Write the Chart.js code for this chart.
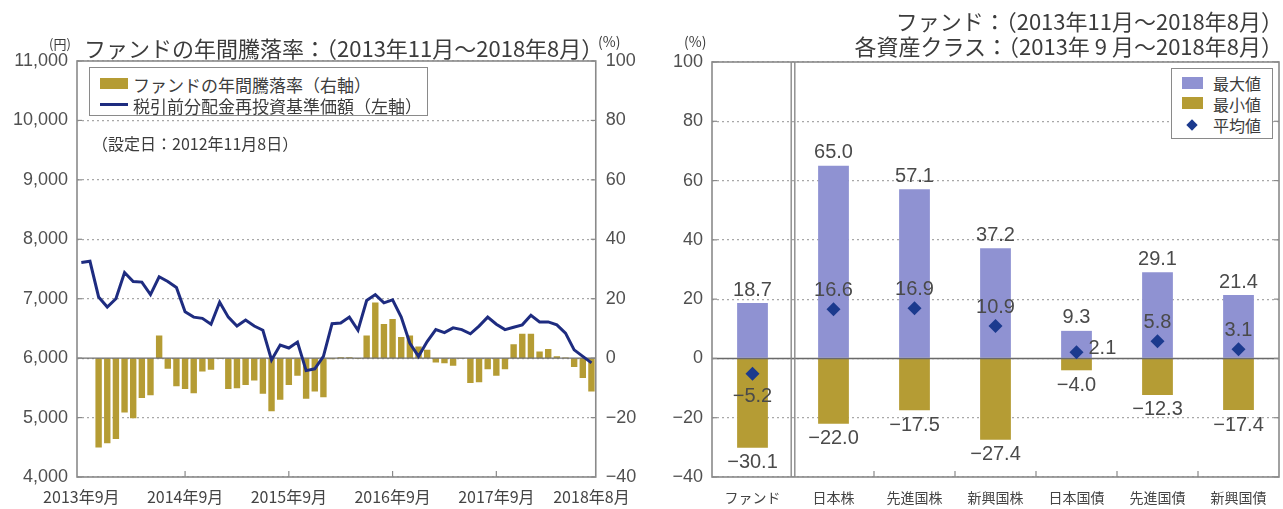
<!DOCTYPE html>
<html lang="ja">
<head>
<meta charset="utf-8">
<script src="https://cdn.jsdelivr.net/npm/chart.js@4.4.1/dist/chart.umd.min.js"></script>
<style>
  html, body { margin: 0; padding: 0; background: #fff; }
  body { width: 1283px; height: 509px; position: relative; overflow: hidden;
         font-family: "Noto Sans CJK JP", "Noto Sans", sans-serif; color: #3c3c3c; }
  .txt { position: absolute; white-space: nowrap; line-height: 1; transform: translateY(-50%); }
  .box { position: absolute; background: #fff; border: 1px solid #8a8a8a; box-sizing: border-box; }
  .sw { position: absolute; }
  #leftWrap { position: absolute; left: 0; top: 0; width: 640px; height: 509px; }
  #rightWrap { position: absolute; left: 640px; top: 0; width: 646px; height: 509px; }
</style>
</head>
<body>
<div id="leftWrap"><canvas id="leftChart" width="640" height="509"></canvas></div>
<div id="rightWrap"><canvas id="rightChart" width="646" height="509"></canvas></div>

<!-- left chart texts and legend -->
<div class="txt" style="left:49px; top:43px; font-size:13px;">(円)</div>
<div class="txt" style="left:84px; top:47px; font-size:22px;">ファンドの年間騰落率：（2013年11月～2018年8月）</div>
<div class="txt" style="left:598px; top:41px; font-size:14px;">(%)</div>
<div class="box" style="left:89px; top:67px; width:339px; height:49px;"></div>
<div class="sw" style="left:100px; top:78px; width:28px; height:11px; background:#b59c34;"></div>
<div class="txt" style="left:133px; top:84px; font-size:17px;">ファンドの年間騰落率（右軸）</div>
<div class="sw" style="left:100px; top:103px; width:28px; height:3px; background:#1e2c80;"></div>
<div class="txt" style="left:133px; top:105px; font-size:17px;">税引前分配金再投資基準価額（左軸）</div>
<div class="txt" style="left:92px; top:143px; font-size:16px;">（設定日：2012年11月8日）</div>

<!-- right chart texts and legend -->
<div class="txt" style="right:0; top:20px; font-size:22px;">ファンド：（2013年11月～2018年8月）</div>
<div class="txt" style="right:0; top:45px; font-size:22px;">各資産クラス：（2013年 9 月～2018年8月）</div>
<div class="txt" style="left:684px; top:41px; font-size:14px;">(%)</div>
<div class="box" style="left:1171px; top:68px; width:102px; height:71px;"></div>
<div class="sw" style="left:1182px; top:77px; width:21px; height:12px; background:#8f92d2;"></div>
<div class="txt" style="left:1213px; top:83px; font-size:16px;">最大値</div>
<div class="sw" style="left:1182px; top:97px; width:21px; height:12px; background:#b59c34;"></div>
<div class="txt" style="left:1213px; top:104px; font-size:16px;">最小値</div>
<div class="sw" style="left:1188px; top:121px; width:8px; height:8px; background:#1b3a8e; transform:rotate(45deg);"></div>
<div class="txt" style="left:1213px; top:125px; font-size:16px;">平均値</div>

<script>
// ---- left chart data: fund yearly return (%) and NAV (yen), monthly 2013/9 - 2018/8
const months = [];
for (let k = 0; k < 60; k++) {
  const m = 9 + k;
  months.push((2013 + Math.floor((m - 1) / 12)) + '年' + ((m - 1) % 12 + 1) + '月');
}
const xTickLabels = ['2013年9月', '2014年9月', '2015年9月', '2016年9月', '2017年9月', '2018年8月'];

const fundReturn = [
  null, null, -30.1, -28.6, -27.2, -18.3, -20.2, -13.4, -12.5, 7.6,
  -3.6, -9.5, -10.4, -11.8, -4.5, -3.9, -0.3, -10.4, -10.1, -9.0,
  -7.5, -12.0, -17.9, -14.0, -9.0, -5.9, -13.7, -11.2, -13.2, -0.4,
  0.3, 0.3, -0.3, 7.6, 18.7, 11.5, 13.2, 7.1, 7.6, 3.9,
  2.8, -1.5, -1.7, -2.6, -0.2, -8.4, -8.1, -3.7, -5.9, -3.7,
  4.7, 8.2, 8.2, 2.2, 3.1, 0.6, 0.2, -3.0, -6.7, -11.2
];
const navValues = [
  7610, 7630, 7030, 6860, 7000, 7440, 7290, 7280, 7070, 7370,
  7290, 7190, 6780, 6690, 6670, 6570, 6940, 6690, 6540, 6640,
  6540, 6470, 5970, 6220, 6170, 6270, 5790, 5820, 6030, 6580,
  6590, 6690, 6470, 6970, 7070, 6930, 6980, 6690, 6250, 6030,
  6280, 6480, 6430, 6510, 6480, 6410, 6540, 6690, 6570, 6480,
  6520, 6560, 6720, 6610, 6610, 6560, 6420, 6140, 6030, 5920
];

// ---- right chart data: max / min / average yearly return (%)
const assetClasses = ['ファンド', '日本株', '先進国株', '新興国株', '日本国債', '先進国債', '新興国債'];
const maxValues = [18.7, 65.0, 57.1, 37.2, 9.3, 29.1, 21.4];
const minValues = [-30.1, -22.0, -17.5, -27.4, -4.0, -12.3, -17.4];
const avgValues = [-5.2, 16.6, 16.9, 10.9, 2.1, 5.8, 3.1];

const GOLD = '#b59c34';
const PURPLE = '#8f92d2';
const NAVY = '#1e2c80';
const DIAMOND = '#1b3a8e';
const NUM_FONT = '"Liberation Sans", Arial, sans-serif';
const CJK_FONT = '"Noto Sans CJK JP", sans-serif';

Chart.defaults.font.family = NUM_FONT;
Chart.defaults.color = '#505050';

const minus = v => (v < 0 ? '\u2212' + Math.abs(v) : '' + v);
const fmt1 = v => (v < 0 ? '\u2212' : '') + Math.abs(v).toFixed(1);

function seg(ctx, x1, y1, x2, y2) {
  ctx.beginPath(); ctx.moveTo(x1, y1); ctx.lineTo(x2, y2); ctx.stroke();
}

// frame, zero line and inner tick marks for the left chart
const leftDecor = {
  id: 'leftDecor',
  afterDatasetDraw(chart, args) {
    if (args.index !== 0) return;
    const { ctx, chartArea: a, scales } = chart;
    const y0 = scales.yR.getPixelForValue(0);
    ctx.save(); ctx.strokeStyle = '#707070'; ctx.lineWidth = 1.3;
    seg(ctx, a.left, y0, a.right, y0);
    ctx.restore();
  },
  afterDraw(chart) {
    const { ctx, chartArea: a, scales } = chart;
    ctx.save();
    ctx.strokeStyle = '#8a8a8a'; ctx.lineWidth = 1.6;
    ctx.strokeRect(a.left, a.top, a.width, a.height);
    ctx.lineWidth = 1.2;
    scales.yL.ticks.forEach(t => {
      const y = scales.yL.getPixelForValue(t.value);
      seg(ctx, a.left, y, a.left + 5, y);
      seg(ctx, a.right - 5, y, a.right, y);
    });
    xTickLabels.slice(1, -1).forEach(l => {
      const x = scales.x.getPixelForValue(months.indexOf(l));
      seg(ctx, x, a.bottom, x, a.bottom - 6);
    });
    ctx.restore();
  }
};

new Chart(document.getElementById('leftChart'), {
  type: 'bar',
  data: {
    labels: months,
    datasets: [
      { type: 'bar', label: 'ファンドの年間騰落率（右軸）', data: fundReturn, yAxisID: 'yR',
        backgroundColor: GOLD, barPercentage: 0.74, categoryPercentage: 1, order: 1 },
      { type: 'line', label: '税引前分配金再投資基準価額（左軸）', data: navValues, yAxisID: 'yL',
        borderColor: NAVY, borderWidth: 3, pointRadius: 0, tension: 0, order: 0 }
    ]
  },
  options: {
    responsive: false,
    animation: false,
    layout: { padding: { top: 61, left: 0, right: 0, bottom: 0 } },
    plugins: { legend: { display: false }, tooltip: { enabled: false } },
    scales: {
      x: {
        grid: { display: false, drawTicks: false },
        border: { display: false },
        ticks: {
          autoSkip: false, maxRotation: 0, minRotation: 0, padding: 10,
          font: { family: CJK_FONT, size: 16 }, color: '#444',
          callback(v) { const l = this.getLabelForValue(v); return xTickLabels.includes(l) ? l : ''; }
        },
        afterFit(s) { s.height = 32; }
      },
      yL: {
        position: 'left', min: 4000, max: 11000,
        ticks: { stepSize: 1000, padding: 9, font: { size: 18 }, callback: v => v.toLocaleString('en-US') },
        grid: { color: '#a8a8a8', lineWidth: 1.2, drawTicks: false },
        border: { display: false, dash: [2, 3] },
        afterFit(s) { s.width = 77; }
      },
      yR: {
        position: 'right', min: -40, max: 100,
        ticks: { stepSize: 20, padding: 10, font: { size: 18 }, callback: v => minus(v) },
        grid: { display: false, drawTicks: false },
        border: { display: false },
        afterFit(s) { s.width = 43; }
      }
    }
  },
  plugins: [leftDecor]
});

// frame, zero line, separator, tick marks and value labels for the right chart
const rightDecor = {
  id: 'rightDecor',
  afterDatasetDraw(chart, args) {
    if (args.index !== 1) return;
    const { ctx, chartArea: a, scales } = chart;
    const y0 = scales.y.getPixelForValue(0);
    ctx.save(); ctx.strokeStyle = '#6a6a6a'; ctx.lineWidth = 1.4;
    seg(ctx, a.left, y0, a.right, y0);
    ctx.restore();
  },
  afterDraw(chart) {
    const { ctx, chartArea: a, scales } = chart;
    ctx.save();
    ctx.strokeStyle = '#8a8a8a'; ctx.lineWidth = 1.6;
    ctx.strokeRect(a.left, a.top, a.width, a.height);
    ctx.lineWidth = 1.2;
    scales.y.ticks.forEach(t => {
      const y = scales.y.getPixelForValue(t.value);
      seg(ctx, a.left, y, a.left + 5, y);
      seg(ctx, a.right - 5, y, a.right, y);
    });
    for (let i = 0; i < assetClasses.length - 1; i++) {
      const x = (scales.x.getPixelForValue(i) + scales.x.getPixelForValue(i + 1)) / 2;
      if (i === 0) {
        ctx.lineWidth = 1.4;
        seg(ctx, x - 1.8, a.top, x - 1.8, a.bottom);
        seg(ctx, x + 1.8, a.top, x + 1.8, a.bottom);
        ctx.lineWidth = 1.2;
      } else {
        seg(ctx, x, a.bottom, x, a.bottom - 6);
      }
    }
    // value labels
    ctx.font = '20px ' + NUM_FONT;
    ctx.fillStyle = '#4a4a4a';
    ctx.textBaseline = 'middle';
    chart.data.datasets.forEach((ds, di) => {
      chart.getDatasetMeta(di).data.forEach((el, i) => {
        const txt = fmt1(ds.data[i]);
        let x = el.x, y = el.y;
        ctx.textAlign = 'center';
        if (ds.labelPos === 'top') y -= 13;
        else if (ds.labelPos === 'bottom') y += 15;
        else if (ds.data[i] < 0) y += 23;
        else if (i === 4) { x += 12; y -= 4; ctx.textAlign = 'left'; }
        else y -= 19;
        ctx.fillText(txt, x, y);
      });
    });
    ctx.restore();
  }
};

new Chart(document.getElementById('rightChart'), {
  type: 'bar',
  data: {
    labels: assetClasses,
    datasets: [
      { label: '最大値', data: maxValues, backgroundColor: PURPLE, grouped: false,
        barPercentage: 0.38, categoryPercentage: 1, order: 2, labelPos: 'top' },
      { label: '最小値', data: minValues, backgroundColor: GOLD, grouped: false,
        barPercentage: 0.38, categoryPercentage: 1, order: 1, labelPos: 'bottom' },
      { type: 'line', label: '平均値', data: avgValues, showLine: false, order: 0,
        pointStyle: 'rectRot', pointRadius: 7, backgroundColor: DIAMOND, borderColor: DIAMOND, borderWidth: 0 }
    ]
  },
  options: {
    responsive: false,
    animation: false,
    layout: { padding: { top: 62, left: 0, right: 0, bottom: 0 } },
    plugins: { legend: { display: false }, tooltip: { enabled: false } },
    scales: {
      x: {
        grid: { display: false, drawTicks: false },
        border: { display: false },
        ticks: { padding: 12, maxRotation: 0, font: { family: CJK_FONT, size: 14 }, color: '#444' },
        afterFit(s) { s.height = 32; }
      },
      y: {
        min: -40, max: 100,
        ticks: { stepSize: 20, padding: 9, font: { size: 18 }, callback: v => minus(v) },
        grid: { color: '#a8a8a8', lineWidth: 1.2, drawTicks: false },
        border: { display: false, dash: [2, 3] },
        afterFit(s) { s.width = 72; }
      }
    }
  },
  plugins: [rightDecor]
});
</script>
</body>
</html>
